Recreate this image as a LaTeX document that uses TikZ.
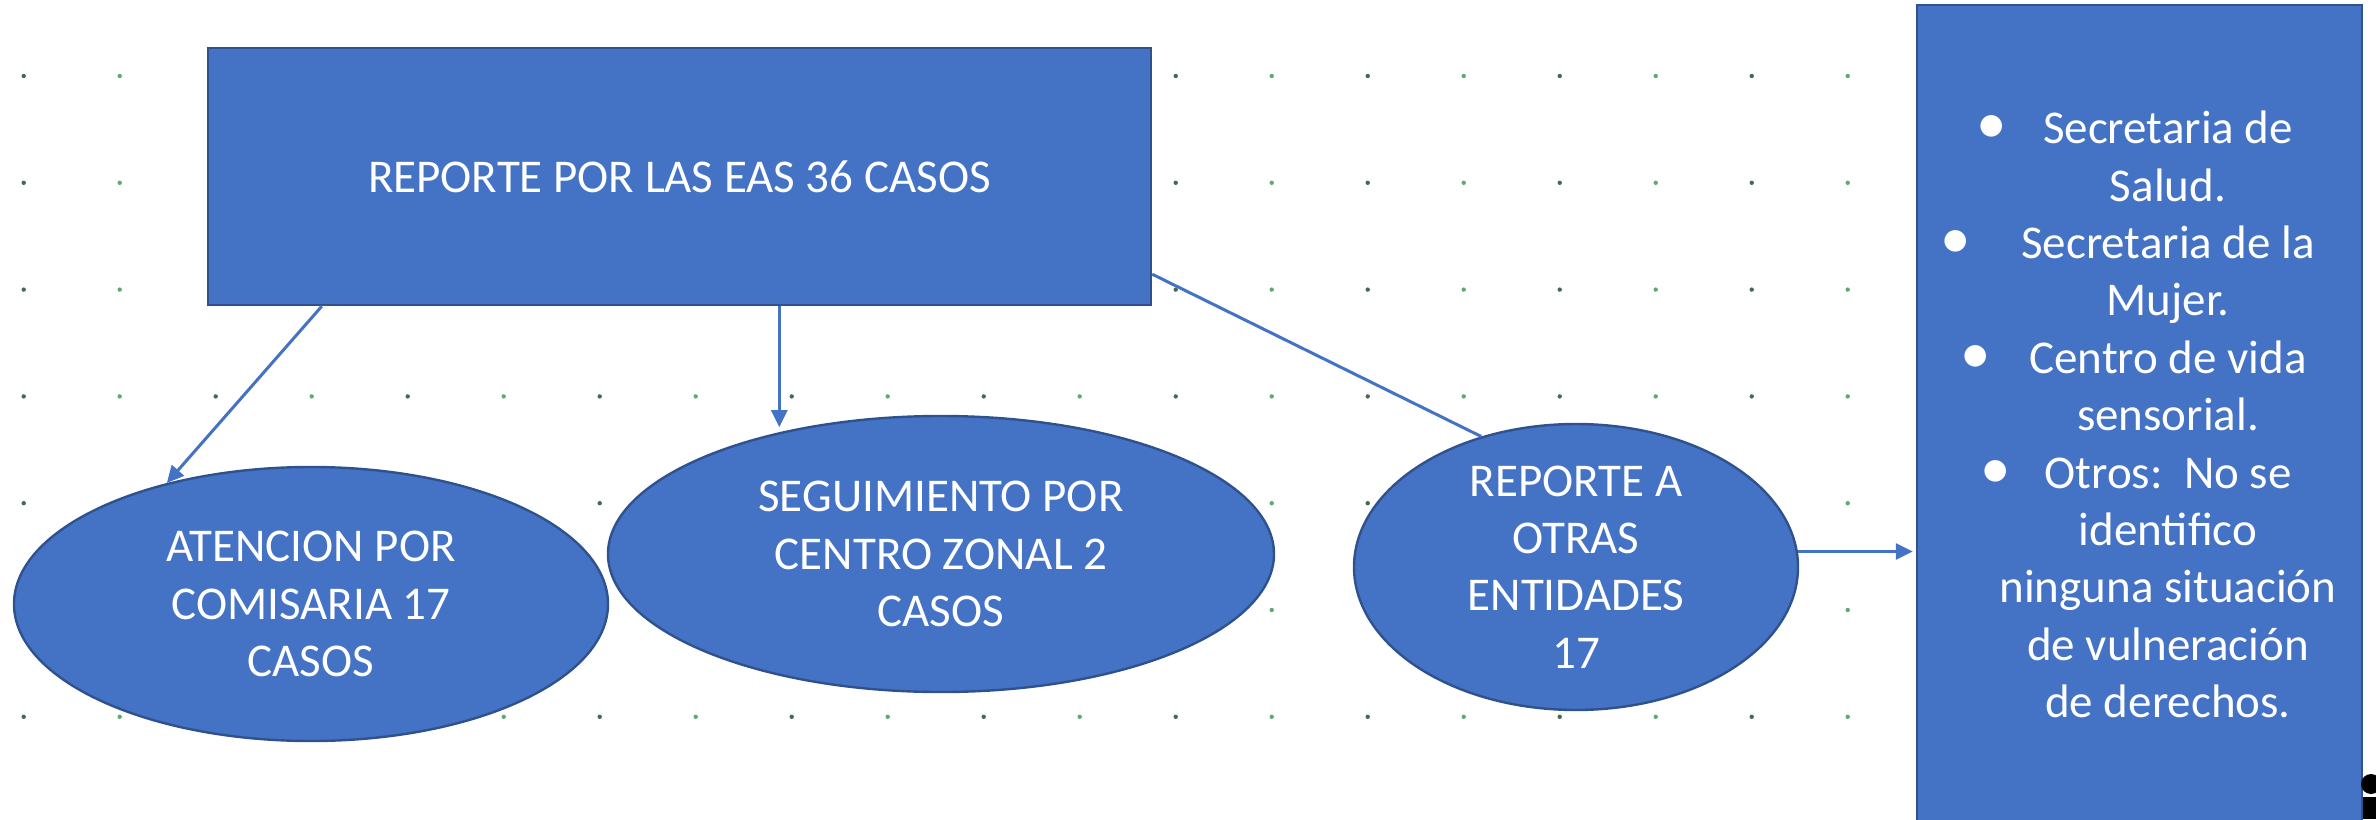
\documentclass[tikz,border=0pt]{standalone}
\usepackage{fontspec}
\setmainfont{Carlito}
\usepackage{xcolor}
\usepackage{tikz}
\usetikzlibrary{shapes,arrows.meta,positioning}

\definecolor{boxblue}{HTML}{4472C4}
\definecolor{boxedge}{HTML}{2F528F}
\definecolor{dotdark}{HTML}{4A6656}
\definecolor{dotgreen}{HTML}{62A877}

% hanging bullet, gap to the text given in #1
\newcommand{\vineta}[1]{\llap{\scalebox{1.3}{\textbullet}\hspace{#1}}}

\begin{document}
\begin{tikzpicture}[x=0.5pt, y=-0.5pt,
    caja/.style={rectangle, fill=boxblue, draw=boxedge, line width=1.2pt, inner sep=0pt},
    ovalo/.style={ellipse, fill=boxblue, draw=boxedge, line width=1.2pt, inner sep=0pt},
    texto/.style={text=white, align=center, inner sep=0pt, font=\fontsize{23.5}{28.7}\selectfont},
    flecha/.style={-{Triangle[length=8.5pt,width=8pt]}, line width=1.5pt, boxblue},
    linea/.style={line width=1.5pt, boxblue}]

    \useasboundingbox (0,0) rectangle (2376,819);

    % Background dot grid
    \foreach \i in {0,...,19}
      \foreach \j in {0,...,6} {
        \ifodd\i \def\dc{dotgreen}\else \def\dc{dotdark}\fi
        \fill[\dc] (23.7+96*\i, 76+106.8*\j) circle (1.1pt);
      }

    % Main report box
    \node[caja, texto, minimum width=471.5pt, minimum height=128.5pt] (reporte) at (679.5,176.5) {REPORTE POR LAS EAS 36 CASOS};

    % Outcome ellipses
    \node[ovalo, minimum width=297pt, minimum height=137pt] (atencion) at (311,604) {};
    \node[texto] (atenciontxt) at (atencion) {ATENCION POR\\COMISARIA 17\\CASOS};

    \node[ovalo, minimum width=333pt, minimum height=138pt] (seguimiento) at (941,554) {};
    \node[texto] (seguimientotxt) at (seguimiento) {SEGUIMIENTO POR\\CENTRO ZONAL 2\\CASOS};

    \node[ovalo, minimum width=222pt, minimum height=143pt] (otras) at (1576,567) {};
    \node[texto] (otrastxt) at (otras) {REPORTE A\\OTRAS\\ENTIDADES\\17};

    % List of entities (runs off the bottom)
    \node[caja, minimum width=222.5pt, minimum height=415pt] (lista) at (2139.5,420) {};
    \node[texto] (listatxt) at (2168,414.5) {\vineta{18pt}Secretaria de\\Salud.\\
        \vineta{25pt}Secretaria de la\\Mujer.\\
        \vineta{19pt}Centro de vida\\sensorial.\\
        \vineta{17pt}Otros:\ \ No se\\identifico\\ninguna situación\\de vulneración\\de derechos.};

    % Connectors
    \draw[flecha] ([xshift=57.5pt]reporte.south west) -- (atencion.140);
    \draw[flecha, shorten >=2.5pt] (seguimiento.143 |- reporte.south) -- (seguimiento.143);
    \draw[linea] ([yshift=16pt]reporte.south east) -- (otras.126);
    \draw[flecha, shorten >=1.5pt] (otras.4) -- (otras.4 -| lista.west);

    % cut-off picture at the corner
    \fill[black] (2371,784) circle (5pt);
    \fill[black] (2363,797) rectangle (2376,819);
\end{tikzpicture}
\end{document}
